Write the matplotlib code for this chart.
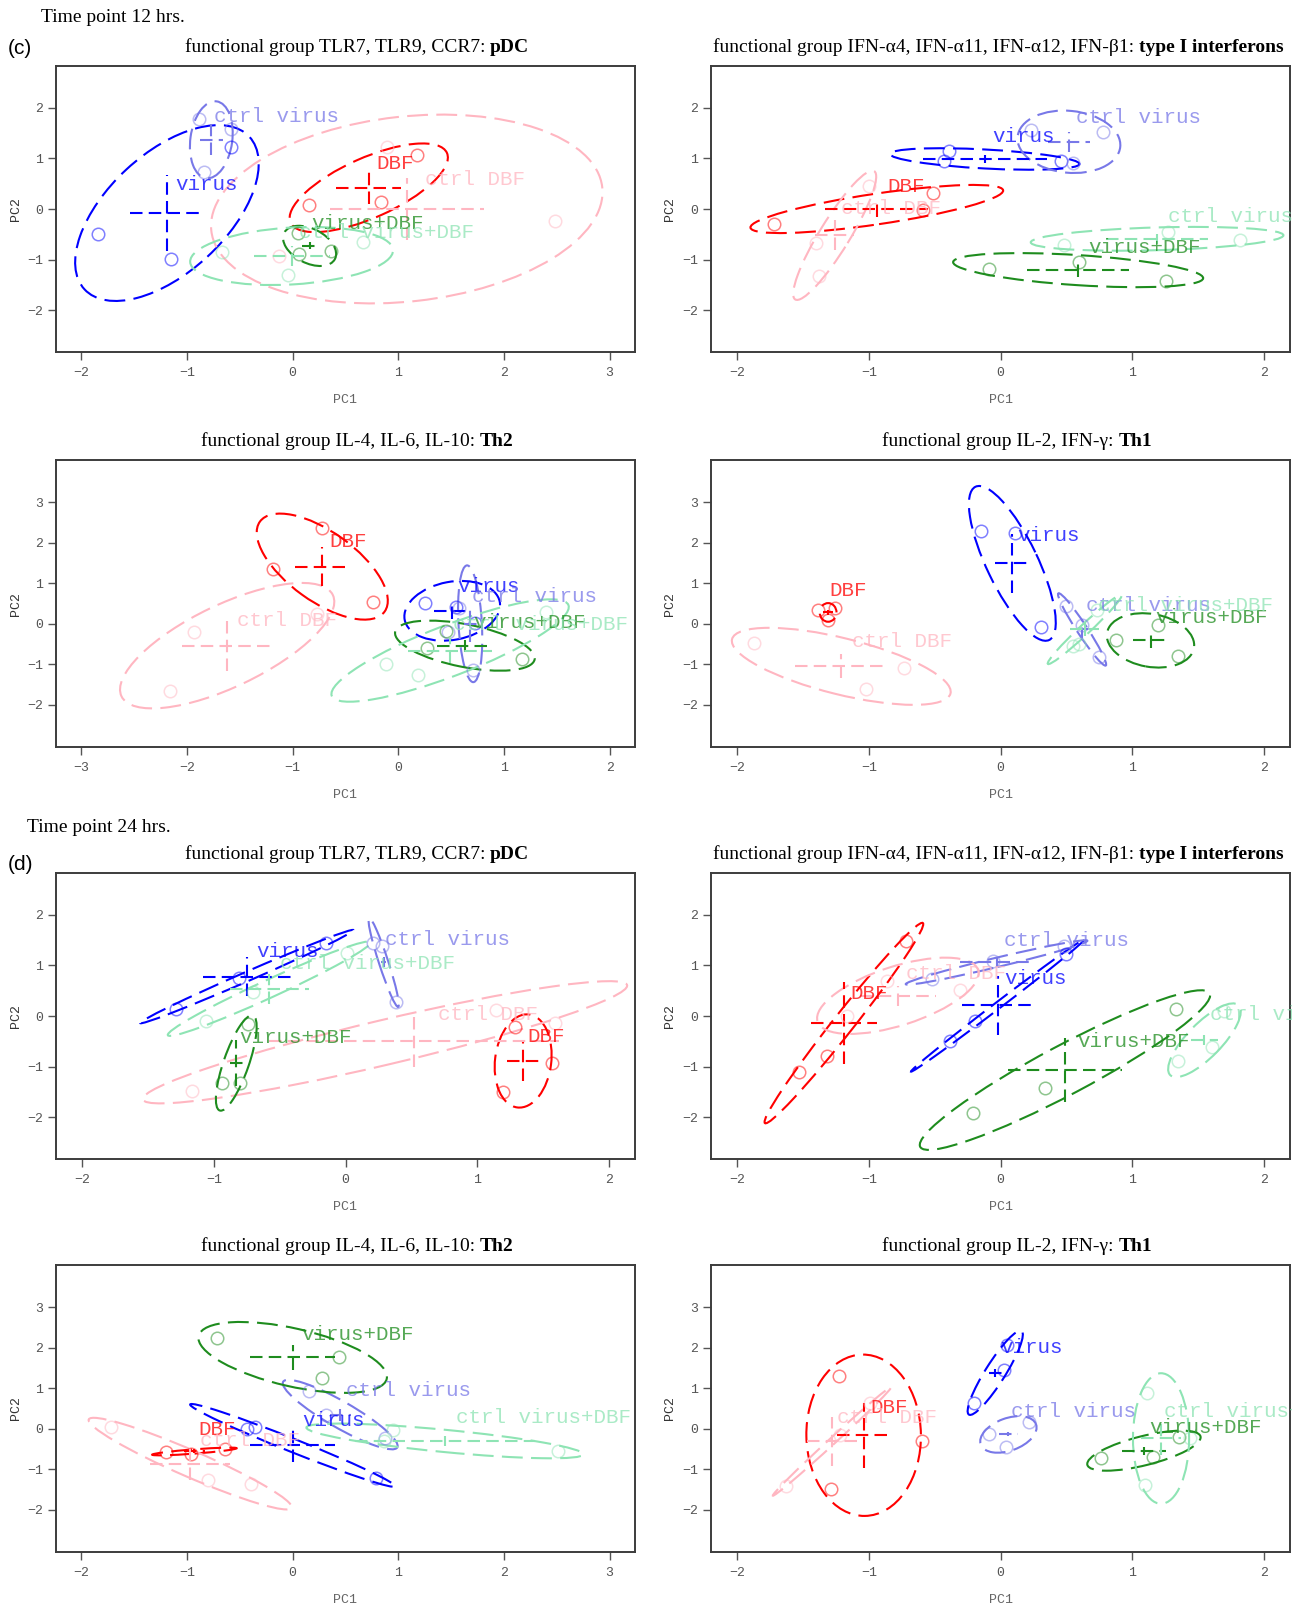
import matplotlib
matplotlib.use("Agg")
import matplotlib.pyplot as plt
import numpy as np
from matplotlib.patches import Circle
from matplotlib.transforms import Affine2D, Bbox, TransformedBbox

plt.rcParams["font.family"] = ["Liberation Mono", "DejaVu Sans Mono"]

W, H = 1299, 1607
GROUPS = ["virus", "ctrl virus", "DBF", "ctrl DBF", "virus+DBF", "ctrl virus+DBF"]
COLORS = ["#0000ff", "#7878e8", "#ff0000", "#ffb6c1", "#1e8c1e", "#8ee4b4"]

TITLES = [("functional group TLR7, TLR9, CCR7:", "pDC"),
          ("functional group IFN-\u03b14, IFN-\u03b111, IFN-\u03b112, IFN-\u03b21:", "type I interferons"),
          ("functional group IL-4, IL-6, IL-10:", "Th2"),
          ("functional group IL-2, IFN-\u03b3:", "Th1")]

# per panel: points per group, cross (cx, cy, half-x, half-y),
# ellipse (major semi-axis vector ux, uy, minor/major ratio[, centre x, centre y]), label (x, y)
# ---- 12 hrs, pDC
P1_PTS = [[(-1.84, -0.49), (-1.15, -0.98), (-0.58, 1.22)],
          [(-0.89, 1.78), (-0.58, 1.58), (-0.84, 0.74)],
          [(0.15, 0.07), (0.84, 0.13), (1.18, 1.07)],
          [(0.89, 1.23), (2.48, -0.23), (-0.13, -0.93)],
          [(0.05, -0.47), (0.06, -0.90), (0.36, -0.83)],
          [(-0.67, -0.85), (-0.04, -1.30), (0.67, -0.65)]]
P1_CROSS = [(-1.19, -0.08, 0.35, 0.75), (-0.77, 1.37, 0.11, 0.31), (0.72, 0.42, 0.31, 0.32),
            (1.08, 0.0, 0.73, 0.62), (0.16, -0.73, 0.07, 0.07), (-0.01, -0.93, 0.36, 0.2)]
P1_ELL = [(0.78, 1.51, 0.53), (0.05, 0.76, 0.54), (0.74, 0.69, 0.35),
          (1.85, 0.43, 0.47), (0.24, -0.26, 0.6), (0.96, 0.12, 0.28)]
P1_LAB = [(-1.11, 0.48), (-0.745, 1.84), (0.79, 0.91), (1.25, 0.58), (0.18, -0.28), (0.06, -0.47)]

# ---- 12 hrs, type I interferons
P2_PTS = [[(-0.39, 1.14), (-0.43, 0.95), (0.46, 0.95)],
          [(0.23, 1.57), (0.78, 1.52), (0.55, 0.91)],
          [(-1.72, -0.30), (-0.51, 0.31), (-0.59, -0.01)],
          [(-1.0, 0.45), (-1.40, -0.68), (-1.38, -1.33)],
          [(-0.09, -1.18), (0.60, -1.04), (1.26, -1.42)],
          [(0.48, -0.72), (1.27, -0.45), (1.82, -0.61)]]
P2_CROSS = [(-0.12, 0.99, 0.47, 0.08), (0.52, 1.33, 0.16, 0.2), (-0.94, 0.0, 0.39, 0.16),
            (-1.26, -0.52, 0.15, 0.3), (0.59, -1.21, 0.39, 0.13), (1.19, -0.59, 0.39, 0.1)]
P2_ELL = [(0.72, -0.10, 0.1), (0.39, -0.1, 0.6), (0.96, 0.37, 0.12),
          (0.30, 1.27, 0.2), (0.95, -0.16, 0.12), (0.96, 0.07, 0.09)]
P2_LAB = [(-0.06, 1.44), (0.57, 1.81), (-0.86, 0.45), (-1.21, 0.0), (0.67, -0.76), (1.27, -0.15)]

# ---- 12 hrs, Th2
P3_PTS = [[(0.25, 0.52), (0.55, 0.42), (0.73, 0.02)],
          [(0.57, 0.40), (0.47, -0.20), (0.71, -1.14)],
          [(-0.72, 2.36), (-1.19, 1.34), (-0.24, 0.53)],
          [(-1.93, -0.21), (-2.16, -1.66), (-0.77, 0.25)],
          [(0.27, -0.59), (1.17, -0.86), (0.45, -0.17)],
          [(-0.12, -1.0), (0.19, -1.27), (1.40, 0.30)]]
P3_CROSS = [(0.51, 0.32, 0.17, 0.2), (0.68, 0.0, 0.06, 0.45), (-0.72, 1.41, 0.26, 0.48),
            (-1.62, -0.54, 0.43, 0.62), (0.63, -0.54, 0.26, 0.15), (0.49, -0.66, 0.4, 0.3)]
P3_ELL = [(0.45, 0.22, 0.6), (-0.03, 1.44, 0.2), (0.59, -1.11, 0.45),
          (1.0, 1.25, 0.35), (0.66, -0.34, 0.3), (1.12, 1.12, 0.2)]
P3_LAB = [(0.56, 0.91), (0.70, 0.68), (-0.65, 2.04), (-1.53, 0.09), (0.71, 0.02), (0.52, -0.03)]

# ---- 12 hrs, Th1
P4_PTS = [[(-0.15, 2.29), (0.31, -0.07), (0.11, 2.25)],
          [(0.50, 0.44), (0.62, -0.04), (0.75, -0.81)],
          [(-1.39, 0.33), (-1.26, 0.40), (-1.31, 0.10)],
          [(-1.87, -0.47), (-0.73, -1.09), (-1.02, -1.60)],
          [(0.88, -0.40), (1.20, -0.02), (1.35, -0.80)],
          [(0.55, -0.55), (0.73, 0.35), (0.60, -0.50)]]
P4_CROSS = [(0.09, 1.49, 0.13, 0.72), (0.62, -0.14, 0.05, 0.25), (-1.31, 0.28, 0.04, 0.07),
            (-1.21, -1.05, 0.35, 0.3), (1.14, -0.41, 0.13, 0.2), (0.64, -0.14, 0.11, 0.15)]
P4_ELL = [(-0.28, 1.89, 0.3), (0.18, -0.89, 0.12), (0.0, 0.23, 0.9),
          (0.83, -0.67, 0.25), (0.33, -0.19, 0.6), (0.28, 0.85, 0.1)]
P4_LAB = [(0.13, 2.18), (0.65, 0.46), (-1.30, 0.82), (-1.13, -0.44), (1.18, 0.16), (0.74, 0.44)]

# ---- 24 hrs, pDC
P5_PTS = [[(-1.29, 0.14), (-0.81, 0.75), (-0.15, 1.44)],
          [(0.21, 1.44), (0.28, 1.38), (0.38, 0.27)],
          [(1.29, -0.21), (1.57, -0.94), (1.20, -1.51)],
          [(-1.17, -1.49), (1.14, 0.12), (1.59, -0.13)],
          [(-0.74, -0.15), (-0.94, -1.32), (-0.80, -1.32)],
          [(-1.06, -0.10), (-0.70, 0.48), (0.01, 1.24)]]
P5_CROSS = [(-0.75, 0.78, 0.335, 0.38), (0.29, 1.06, 0.02, 0.1), (1.35, -0.89, 0.12, 0.4),
            (0.52, -0.50, 1.1, 0.5), (-0.83, -0.93, 0.05, 0.45), (-0.58, 0.54, 0.3, 0.3)]
P5_ELL = [(0.81, 0.92, 0.04), (0.11, -0.88, 0.1), (0.044, 0.92, 0.6),
          (1.84, 1.13, 0.09, 0.30, -0.52), (0.126, 0.94, 0.25), (0.77, 0.92, 0.08)]
P5_LAB = [(-0.68, 1.27), (0.30, 1.52), (1.38, -0.41), (0.70, 0.03), (-0.81, -0.42), (-0.50, 1.03)]

# ---- 24 hrs, type I interferons
P6_PTS = [[(-0.38, -0.50), (-0.19, -0.09), (0.50, 1.23)],
          [(-0.52, 0.73), (-0.06, 1.08), (0.48, 1.38)],
          [(-0.72, 1.49), (-1.32, -0.80), (-1.53, -1.11)],
          [(-0.86, 0.69), (-0.31, 0.52), (-1.17, 0.0)],
          [(-0.21, -1.92), (0.34, -1.42), (1.33, 0.13)],
          [(1.35, -0.90), (1.61, -0.62), (1.70, 0.09)]]
P6_CROSS = [(-0.02, 0.21, 0.27, 0.58), (-0.03, 1.06, 0.28, 0.1), (-1.19, -0.14, 0.25, 0.81),
            (-0.78, 0.40, 0.29, 0.2), (0.49, -1.07, 0.43, 0.63), (1.55, -0.48, 0.1, 0.1)]
P6_ELL = [(0.66, 1.31, 0.03), (0.69, 0.43, 0.05), (0.60, 1.98, 0.08),
          (0.61, 0.51, 0.35), (1.10, 1.52, 0.15), (0.26, 0.69, 0.35)]
P6_LAB = [(0.03, 0.75), (0.03, 1.50), (-1.14, 0.45), (-0.72, 0.85), (0.58, -0.51), (1.59, 0.03)]

# ---- 24 hrs, Th2
P7_PTS = [[(-0.43, 0.0), (-0.36, 0.04), (0.79, -1.22)],
          [(0.15, 0.92), (0.32, 0.35), (0.87, -0.23)],
          [(-1.20, -0.58), (-0.96, -0.62), (-0.64, -0.49)],
          [(-1.72, 0.04), (-0.80, -1.26), (-0.39, -1.37)],
          [(-0.72, 2.24), (0.44, 1.77), (0.28, 1.26)],
          [(0.95, -0.04), (2.51, -0.55), (0.86, -0.31)]]
P7_CROSS = [(0.0, -0.41, 0.4, 0.4), (0.45, 0.35, 0.1, 0.15), (-0.93, -0.56, 0.1, 0.05),
            (-0.97, -0.86, 0.38, 0.4), (0.0, 1.76, 0.4, 0.3), (1.44, -0.30, 0.85, 0.12)]
P7_ELL = [(0.97, -1.01, 0.06), (0.54, -0.81, 0.2), (0.40, 0.08, 0.05),
          (0.96, -1.09, 0.12), (0.89, -0.53, 0.3), (1.31, -0.33, 0.08)]
P7_LAB = [(0.09, 0.21), (0.50, 0.95), (-0.89, -0.02), (-0.88, -0.29), (0.08, 2.33), (1.55, 0.27)]

# ---- 24 hrs, Th1
P8_PTS = [[(0.05, 2.07), (0.03, 1.44), (-0.20, 0.63)],
          [(0.22, 0.16), (-0.09, -0.12), (0.04, -0.45)],
          [(-1.23, 1.31), (-1.29, -1.49), (-0.60, -0.29)],
          [(-1.63, -1.41), (-1.22, -0.15), (-0.99, 0.63)],
          [(0.76, -0.72), (1.16, -0.70), (1.36, -0.21)],
          [(1.11, 0.88), (1.10, -1.38), (1.44, -0.23)]]
P8_CROSS = [(-0.04, 1.38, 0.05, 0.1), (0.06, -0.14, 0.07, 0.05), (-1.04, -0.16, 0.2, 0.8),
            (-1.28, -0.31, 0.19, 0.6), (1.09, -0.54, 0.17, 0.1), (1.22, -0.24, 0.15, 0.4)]
P8_ELL = [(0.20, 1.03, 0.2), (0.21, 0.25, 0.55), (-0.01, 1.99, 0.71),
          (0.45, 1.34, 0.04), (0.43, 0.35, 0.25), (0.0, 1.61, 0.43)]
P8_LAB = [(0.0, 2.0), (0.08, 0.43), (-0.99, 0.53), (-1.24, 0.29), (1.13, 0.04), (1.24, 0.43)]

XLIM = [(-2.24, 3.24), (-2.2, 2.2), (-3.24, 2.24), (-2.2, 2.2),
        (-2.2, 2.2), (-2.2, 2.2), (-2.24, 3.24), (-2.2, 2.2)]
YLIM_PC = (-2.83, 2.83)
YLIM_TH = (-3.04, 4.04)
XTICKS = [[-2, -1, 0, 1, 2, 3], [-2, -1, 0, 1, 2], [-3, -2, -1, 0, 1, 2], [-2, -1, 0, 1, 2],
          [-2, -1, 0, 1, 2], [-2, -1, 0, 1, 2], [-2, -1, 0, 1, 2, 3], [-2, -1, 0, 1, 2]]

PANELS = [(P1_PTS, P1_CROSS, P1_ELL, P1_LAB), (P2_PTS, P2_CROSS, P2_ELL, P2_LAB),
          (P3_PTS, P3_CROSS, P3_ELL, P3_LAB), (P4_PTS, P4_CROSS, P4_ELL, P4_LAB),
          (P5_PTS, P5_CROSS, P5_ELL, P5_LAB), (P6_PTS, P6_CROSS, P6_ELL, P6_LAB),
          (P7_PTS, P7_CROSS, P7_ELL, P7_LAB), (P8_PTS, P8_CROSS, P8_ELL, P8_LAB)]

# layout in pixels
COL_X = [(56, 635), (711, 1290)]
ROW_Y = [(66, 352), (460, 747), (873, 1159), (1265, 1552)]
TITLE_XC = [(357, 998), (357, 1017), (357, 998), (357, 1017)]
PC2_X = [16, 670]
CLIP_RIGHT = [660, 1292]   # panel regions clip the group labels


def fx(px):
    return px / W


def fy(py):
    return 1 - py / H


def draw_panel(ax, pts, cross, ell, labs, xlim, ylim, xticks, clip):
    ax.set_xlim(xlim)
    ax.set_ylim(ylim)
    td = ax.transData
    for name, col, P, C, E, L in zip(GROUPS, COLORS, pts, cross, ell, labs):
        P = np.array(P)
        cx, cy, hx, hy = C
        ax.plot(P[:, 0], P[:, 1], "o", mfc="none", mec=col, ms=9, mew=1.1, alpha=0.5)
        ax.plot([cx - hx, cx + hx], [cy, cy], color=col, lw=1.5, dashes=(6, 3))
        ax.plot([cx, cx], [cy - hy, cy + hy], color=col, lw=1.5, dashes=(6, 3))
        ux, uy, r = E[:3]
        ex, ey = E[3:5] if len(E) == 5 else (cx, cy)
        p0 = td.transform((ex, ey))
        d = td.transform((ex + ux, ey + uy)) - p0
        vx, vy = td.inverted().transform(p0 + r * np.array([-d[1], d[0]])) - np.array([ex, ey])
        aff = Affine2D(np.array([[ux, vx, ex], [uy, vy, ey], [0, 0, 1.0]]))
        ax.add_patch(Circle((0, 0), 1, fill=False, ec=col, lw=1.5,
                            linestyle=(0, (10, 4)), transform=aff + td))
        t = ax.text(L[0], L[1], name, color=col, alpha=0.75, fontsize=15,
                    ha="left", va="center", clip_on=True)
        t.set_clip_box(clip)
    ax.set_xlim(xlim)
    ax.set_ylim(ylim)
    ax.set_xticks(xticks)
    yt = [-2, -1, 0, 1, 2] if ylim[1] < 3 else [-2, -1, 0, 1, 2, 3]
    ax.set_yticks(yt)
    ax.tick_params(direction="out", length=6, width=1, colors="#555555",
                   labelsize=9.5, pad=5, top=False, right=False)
    ax.tick_params(axis="y", pad=3)
    for s in ax.spines.values():
        s.set_color("#3c3c3c")
        s.set_linewidth(1.4)


fig = plt.figure(figsize=(W / 100, H / 100), dpi=100)
renderer = fig.canvas.get_renderer()

for i, (pts, cross, ell, labs) in enumerate(PANELS):
    row, col = divmod(i, 2)
    x0, x1 = COL_X[col]
    y0, y1 = ROW_Y[row]
    ax = fig.add_axes([fx(x0), fy(y1), (x1 - x0) / W, (y1 - y0) / H])
    ylim = YLIM_PC if row in (0, 2) else YLIM_TH
    clip = TransformedBbox(Bbox([[fx(x0 - 50), fy(y1 + 30)], [fx(CLIP_RIGHT[col]), fy(y0 - 30)]]),
                           fig.transFigure)
    draw_panel(ax, pts, cross, ell, labs, XLIM[i], ylim, XTICKS[i], clip)

    # axis labels
    fig.text(fx((x0 + x1) / 2), fy(y1 + 48), "PC1", color="#666666", fontsize=9.5,
             ha="center", va="center")
    fig.text(fx(PC2_X[col]), fy((y0 + y1) / 2), "PC2", color="#333333", fontsize=9.5,
             ha="center", va="center", rotation=90)

    # two-part title: plain + bold
    normal, bold = TITLES[(row % 2) * 2 + col]
    t1 = fig.text(0, fy(y0 - 14), normal, family="Liberation Serif", fontsize=14,
                  ha="left", va="baseline")
    t2 = fig.text(0, fy(y0 - 14), bold, family="Liberation Serif", fontsize=14,
                  weight="bold", ha="left", va="baseline")
    w1 = t1.get_window_extent(renderer).width
    w2 = t2.get_window_extent(renderer).width
    gap = 14 * 100 / 72 * 0.25
    xs = TITLE_XC[row][col] - (w1 + gap + w2) / 2
    t1.set_x(fx(xs))
    t2.set_x(fx(xs + w1 + gap))

fig.text(fx(41), fy(17), "Time point 12 hrs.", family="Liberation Serif", fontsize=14,
         ha="left", va="center")
fig.text(fx(8), fy(49), "(c)", family="Liberation Sans", fontsize=15, ha="left", va="center")
fig.text(fx(27), fy(827), "Time point 24 hrs.", family="Liberation Serif", fontsize=14,
         ha="left", va="center")
fig.text(fx(8), fy(865), "(d)", family="Liberation Sans", fontsize=15, ha="left", va="center")

fig.savefig("out.png", dpi=100, facecolor="white")
